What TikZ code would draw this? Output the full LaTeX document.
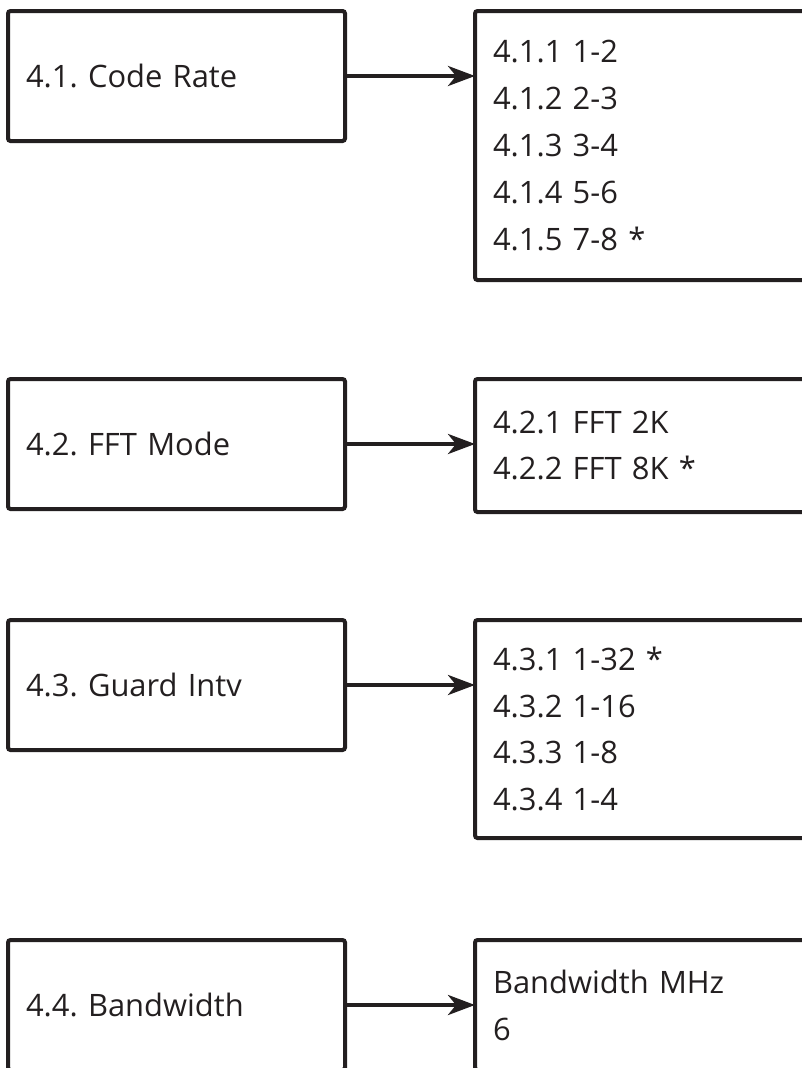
\documentclass[tikz,border=0pt]{standalone}
\usepackage{fontspec}
\setmainfont{Open Sans}
\usetikzlibrary{arrows.meta}

\definecolor{ink}{HTML}{231F20}

\tikzset{
	menubox/.style={draw=ink, line width=4bp, rounded corners=2.5bp, anchor=north west, outer sep=0pt,
		inner xsep=18bp, inner ysep=0pt, text width=301bp, align=left,
		minimum height=130bp, text=ink, font=\fontsize{31}{47}\selectfont\frenchspacing},
	valuebox/.style={menubox, text width=320bp},
	menuarrow/.style={draw=ink, line width=4bp, -{Stealth[length=27bp, width=20bp, inset=8bp]}}
}

\begin{document}
\begin{tikzpicture}[x=1bp, y=-1bp]
		\useasboundingbox (0,0) rectangle (802,1068);

		\draw (8,11) node[menubox] (coderate) {4.1. Code Rate};
		\draw ([xshift=130bp]coderate.north east) node[valuebox, minimum height=269bp] (coderatelist)
			{4.1.1 1-2\\4.1.2 2-3\\4.1.3 3-4\\4.1.4 5-6\\4.1.5 7-8 *};
		\draw[menuarrow] (coderate.east) -- (coderate.east -| coderatelist.west);

		\draw (8,379) node[menubox] (fftmode) {4.2. FFT Mode};
		\draw ([xshift=130bp]fftmode.north east) node[valuebox, minimum height=133bp] (fftmodelist)
			{4.2.1 FFT 2K\\4.2.2 FFT 8K *};
		\draw[menuarrow] (fftmode.east) -- (fftmode.east -| fftmodelist.west);

		\draw (8,620) node[menubox] (guardintv) {4.3. Guard Intv};
		\draw ([xshift=130bp]guardintv.north east) node[valuebox, minimum height=218bp] (guardintvlist)
			{4.3.1 1-32 *\\4.3.2 1-16\\4.3.3 1-8\\4.3.4 1-4};
		\draw[menuarrow] (guardintv.east) -- (guardintv.east -| guardintvlist.west);

		\draw (8,940) node[menubox] (bandwidth) {4.4. Bandwidth};
		\draw ([xshift=130bp]bandwidth.north east) node[valuebox, minimum height=130bp] (bandwidthlist)
			{Bandwidth MHz\\6};
		\draw[menuarrow] (bandwidth.east) -- (bandwidth.east -| bandwidthlist.west);

	\end{tikzpicture}
\end{document}
